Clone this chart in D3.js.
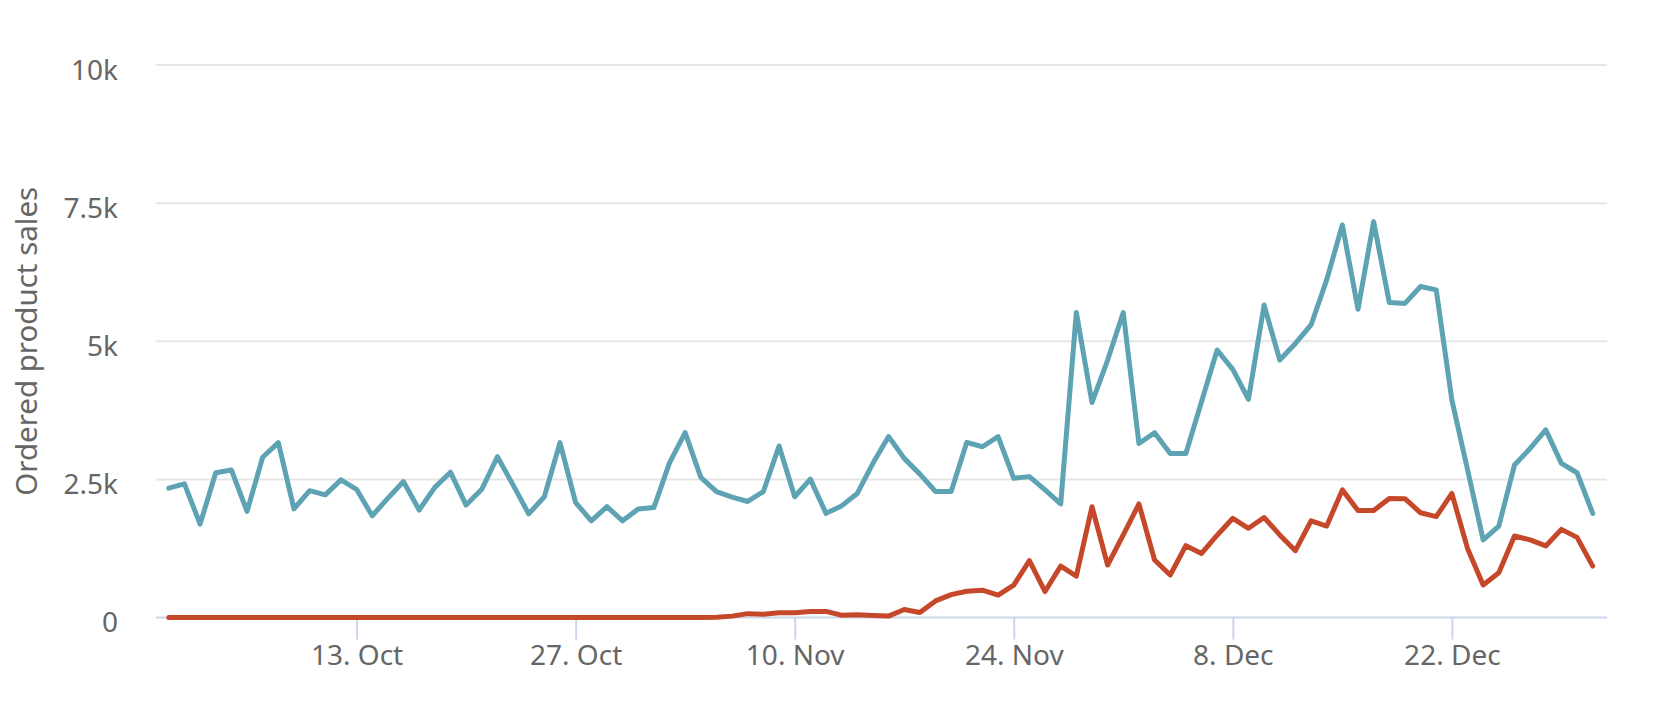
<!DOCTYPE html>
<html>
<head>
<meta charset="utf-8">
<script src="https://cdn.jsdelivr.net/npm/d3@7"></script>
<style>
  html, body { margin: 0; padding: 0; background: #ffffff; }
  svg { display: block; }
  text { font-family: "Noto Sans", "DejaVu Sans", Arial, sans-serif; fill: #666666; }
</style>
</head>
<body>
<svg id="chart" width="1654" height="722"></svg>
<script>
// ---- Data ----
const startDate = "2019-10-01";
const endDate = "2019-12-31";

const seriesBlue = [
  2340, 2420, 1690, 2620, 2670, 1920, 2900, 3165, 1965, 2295,
  2220, 2490, 2320, 1840, 2160, 2460, 1945, 2355, 2630, 2035,
  2320, 2910, 2400, 1875, 2185, 3165, 2080, 1750, 2005, 1750,
  1965, 1990, 2800, 3345, 2535, 2280, 2180, 2100, 2280, 3105,
  2185, 2505, 1885, 2020, 2245, 2790, 3275, 2880, 2595, 2280,
  2280, 3170, 3090, 3275, 2520, 2550, 2310, 2055, 5520, 3890,
  4660, 5520, 3150, 3345, 2970, 2970, 3905, 4840, 4490, 3950,
  5655, 4660, 4960, 5295, 6110, 7105, 5580, 7165, 5700, 5685,
  5990, 5930, 3935, 2680, 1405, 1655, 2760, 3060, 3395, 2790,
  2620, 1885
];

const seriesRed = [
  0, 0, 0, 0, 0, 0, 0, 0, 0, 0,
  0, 0, 0, 0, 0, 0, 0, 0, 0, 0,
  0, 0, 0, 0, 0, 0, 0, 0, 0, 0,
  0, 0, 0, 0, 0, 5, 25, 70, 60, 85,
  85, 110, 110, 40, 50, 35, 25, 145, 90, 300,
  415, 475, 495, 405, 585, 1030, 470, 930, 750, 2005,
  950, 1495, 2055, 1040, 770, 1300, 1160, 1490, 1795, 1615,
  1810, 1495, 1210, 1750, 1655, 2310, 1935, 1935, 2155, 2150,
  1895, 1825, 2245, 1250, 590, 810, 1475, 1405, 1295, 1595,
  1450, 930
];

const xTickDates = ["2019-10-13", "2019-10-27", "2019-11-10", "2019-11-24", "2019-12-08", "2019-12-22"];
const xTickLabels = ["13. Oct", "27. Oct", "10. Nov", "24. Nov", "8. Dec", "22. Dec"];
const yTickValues = [0, 2500, 5000, 7500, 10000];
const yTickLabels = ["0", "2.5k", "5k", "7.5k", "10k"];
const yAxisTitle = "Ordered product sales";

// ---- Layout ----
const plotLeft = 156, plotRight = 1607;
const plotTop = 65, plotBottom = 617.5;
const firstX = 168.8, lastX = 1592.7;
const fontSize = 28;

const parse = d3.utcParse("%Y-%m-%d");
const days = d3.utcDay.range(parse(startDate), d3.utcDay.offset(parse(endDate), 1));

const x = d3.scaleUtc().domain([days[0], days[days.length - 1]]).range([firstX, lastX]);
const y = d3.scaleLinear().domain([0, 10000]).range([plotBottom, plotTop]);

const svg = d3.select("#chart");
svg.append("rect").attr("width", 1654).attr("height", 722).attr("fill", "#ffffff");

// Grid lines
svg.append("g").selectAll("line")
  .data(yTickValues.filter(v => v > 0))
  .join("line")
  .attr("x1", plotLeft).attr("x2", plotRight)
  .attr("y1", d => y(d)).attr("y2", d => y(d))
  .attr("stroke", "#e6e6e6").attr("stroke-width", 2);

// Y axis labels
const yAxis = d3.axisLeft(y).tickValues(yTickValues)
  .tickFormat((d, i) => yTickLabels[i]).tickSize(0).tickPadding(0);
const yG = svg.append("g").attr("transform", `translate(${118},0)`).call(yAxis);
yG.select(".domain").remove();
yG.selectAll("text")
  .attr("font-size", fontSize)
  .attr("font-family", "Noto Sans")
  .attr("fill", "#666666")
  .attr("dy", "0.5em");

// Y axis title
svg.append("text")
  .attr("transform", `translate(${37},${(plotTop + plotBottom) / 2}) rotate(-90)`)
  .attr("text-anchor", "middle")
  .attr("font-size", 29.5)
  .attr("fill", "#666666")
  .text(yAxisTitle);

// X axis
const tickDates = xTickDates.map(parse);
const xAxis = d3.axisBottom(x).tickValues(tickDates)
  .tickFormat((d, i) => xTickLabels[i]).tickSize(22).tickPadding(6).tickSizeOuter(0);
const xG = svg.append("g").attr("transform", `translate(0,${plotBottom})`).call(xAxis);
xG.select(".domain").remove();
xG.selectAll(".tick line").attr("stroke", "#ccd6eb").attr("stroke-width", 2);
xG.selectAll("text")
  .attr("font-size", fontSize)
  .attr("font-family", "Noto Sans")
  .attr("fill", "#666666");

svg.append("line")
  .attr("x1", plotLeft).attr("x2", plotRight)
  .attr("y1", plotBottom).attr("y2", plotBottom)
  .attr("stroke", "#ccd6eb").attr("stroke-width", 2);

// Lines
const line = d3.line().x((d, i) => x(days[i])).y(d => y(d));

svg.append("path")
  .datum(seriesBlue)
  .attr("d", line)
  .attr("fill", "none")
  .attr("stroke", "#5ea3b3")
  .attr("stroke-width", 5)
  .attr("stroke-linejoin", "round")
  .attr("stroke-linecap", "round");

svg.append("path")
  .datum(seriesRed)
  .attr("d", line)
  .attr("fill", "none")
  .attr("stroke", "#c5482b")
  .attr("stroke-width", 5)
  .attr("stroke-linejoin", "round")
  .attr("stroke-linecap", "round");
</script>
</body>
</html>
